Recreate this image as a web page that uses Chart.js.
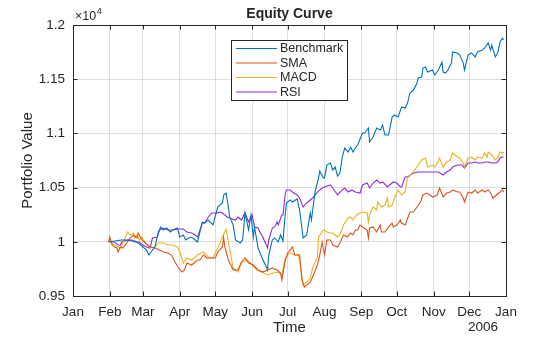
<!DOCTYPE html>
<html>
<head>
<meta charset="utf-8">
<script src="https://cdn.jsdelivr.net/npm/chart.js@4.4.1/dist/chart.umd.min.js"></script>
<style>
  html, body { margin: 0; padding: 0; background: #fff; }
</style>
</head>
<body>
<canvas id="equity-curve" width="560" height="337"></canvas>
<script>
const FONT = '"Liberation Sans", Arial, Helvetica, sans-serif';
const INK = '#262626';
const GRID = 'rgba(38,38,38,0.15)';

// x axis: day of year 2005 (0 = Jan 1)
const monthStarts = [0, 31, 59, 90, 120, 151, 181, 212, 243, 273, 304, 334, 365];
const monthLabels = ['Jan', 'Feb', 'Mar', 'Apr', 'May', 'Jun', 'Jul', 'Aug', 'Sep', 'Oct', 'Nov', 'Dec', 'Jan'];
const yearLabel = '2006';

// portfolio values
const benchDays = [30,35,41,46,50,55,59,62,64,67,69,72,74,76,79,82,84,88,90,93,95,99,101,105,109,111,114,118,122,126,
  127,129,131,132,135,137,141,143,145,148,150,152,153,156,159,163,164,165,168,170,173,175,177,179,180,183,185,189,191,194,
  197,200,201,204,207,208,211,212,214,217,219,221,223,225,227,229,232,234,236,238,240,244,246,249,250,253,256,259,261,263,
  266,269,271,274,277,280,282,284,287,290,291,294,295,297,299,303,305,308,311,312,314,316,319,320,324,326,329,330,333,336,
  339,341,345,347,350,352,353,356,358,360,362,363];
const benchValues = [10000,10007,10017,10017,10007,9989,9952,9924,9878,9924,9952,10090,10137,10109,10127,10090,10109,10127,10044,10063,
  10017,10044,10035,9998,10183,10173,10201,10155,10321,10358,10432,10450,10321,10229,10155,10017,9989,10017,10266,10109,
  10247,10044,10137,9943,9860,9768,9740,9878,10017,10035,9998,10063,10007,10266,10358,10386,10367,10395,10293,10035,
  10063,10266,10201,10459,10589,10653,10589,10589,10708,10727,10662,10690,10607,10635,10782,10865,10828,10875,10828,10865,
  10893,11004,11004,11050,10921,10967,11050,11031,11077,10985,10985,11151,11170,11151,11244,11234,11280,11373,11400,11465,
  11511,11520,11603,11613,11566,11585,11539,11585,11659,11566,11557,11585,11649,11751,11742,11723,11649,11585,11723,11742,
  11705,11751,11769,11788,11834,11769,11815,11705,11742,11843,11880,11862];

const smaDays = [30,31,33,35,37,38,40,42,46,48,51,54,55,58,61,65,69,73,76,80,83,86,89,92,94,96,100,105,107,110,
  113,115,120,122,126,127,128,131,135,139,142,145,148,152,156,160,164,168,172,175,176,179,181,183,185,187,191,193,195,197,
  200,202,206,208,210,212,214,217,219,223,225,228,231,234,236,238,240,242,244,248,249,250,253,256,259,260,263,266,269,270,
  273,276,277,280,284,287,290,293,295,298,301,303,307,309,312,315,318,320,324,326,329,330,333,336,339,341,345,347,350,352,
  354,357,360,362,363];
const smaValues = [10000,10044,9970,9952,9943,9906,9952,9943,9998,10035,10063,10035,10081,10017,9989,9952,9943,9924,9906,9897,
  9878,9814,9758,9721,9740,9804,9786,9832,9832,9878,9851,9851,9851,9906,9952,10035,9952,9832,9740,9740,
  9814,9851,9804,9786,9740,9721,9740,9758,9740,9712,9648,9832,9897,9924,9952,9878,9878,9648,9583,9601,
  9629,9675,9786,9878,9998,9878,10017,10017,9970,9952,9989,10063,10044,10081,10063,10109,10109,10155,10137,10109,
  10035,10127,10137,10090,10155,10090,10090,10137,10173,10137,10155,10201,10173,10155,10275,10275,10321,10367,10432,10450,
  10432,10413,10432,10496,10413,10450,10459,10478,10459,10459,10404,10367,10459,10450,10478,10450,10478,10459,10478,10450,
  10404,10432,10459,10478,10459];

const macdDays = [30,33,35,40,42,46,48,51,52,54,56,58,61,65,69,72,76,80,84,88,90,93,96,100,105,110,114,118,122,126,
  129,131,135,139,142,147,151,155,159,164,169,173,176,179,183,187,190,191,194,197,200,202,206,207,211,214,217,219,223,225,
  228,232,234,236,239,242,244,248,249,250,253,256,257,260,263,265,266,269,271,274,277,280,282,287,291,294,297,299,303,305,
  307,309,312,315,318,320,324,326,329,330,333,336,339,341,345,347,349,350,353,356,358,360,362,363];
const macdValues = [10000,9989,9970,9943,9989,10090,10063,10081,10035,10063,10017,10044,9989,9943,9952,9989,9989,9970,9970,9952,
  9906,9804,9851,9832,9878,9906,9860,9851,9943,10044,10118,9998,9758,9721,9804,9832,9786,9740,9721,9694,
  9712,9721,9694,9851,9897,9878,9878,9832,9601,9629,9666,9758,9860,10044,10109,10090,10081,10081,10044,10063,
  10155,10220,10229,10201,10247,10266,10275,10266,10183,10247,10321,10293,10367,10321,10339,10404,10321,10339,10404,10478,
  10432,10459,10589,10644,10708,10755,10773,10690,10708,10690,10727,10773,10690,10736,10755,10819,10782,10773,10727,10690,
  10773,10782,10755,10782,10773,10819,10782,10828,10801,10755,10773,10828,10819,10828];

const rsiDays = [30,35,38,40,41,46,50,54,56,59,62,65,67,71,73,76,80,84,89,93,96,100,103,105,109,111,114,117,121,124,
  126,130,132,137,139,142,145,148,151,153,156,158,160,164,165,168,170,172,173,176,177,179,180,183,185,189,191,194,197,200,
  202,206,210,212,217,219,223,227,229,232,235,238,242,244,248,250,253,256,259,261,265,267,270,273,276,277,280,282,287,291,
  297,303,308,312,315,318,320,324,328,330,333,336,339,341,345,347,350,353,356,358,360,362,363];
const rsiValues = [10000,9998,9970,9970,9998,10017,10017,9998,9998,9970,9952,9943,10035,10044,10109,10127,10109,10109,10118,10118,
  10090,10081,10063,10044,10173,10173,10229,10266,10266,10275,10266,10229,10220,10201,10229,10201,10266,10183,10247,10137,
  10127,10081,10044,9943,10017,10127,10137,10183,10155,10247,10247,10450,10478,10478,10459,10432,10404,10321,10358,10386,
  10404,10459,10496,10506,10524,10496,10432,10478,10496,10459,10478,10459,10450,10524,10542,10496,10542,10570,10542,10552,
  10506,10524,10552,10542,10506,10506,10598,10598,10635,10644,10644,10644,10644,10616,10644,10662,10690,10708,10708,10681,
  10727,10727,10736,10727,10727,10736,10736,10727,10727,10736,10773,10782,10782];

let pairs = (days, values) => days.map((d, i) => ({ x: d, y: values[i] }));

// MATLAB-like box with inward ticks
const axesBox = {
  id: 'axesBox',
  afterDatasetsDraw(chart) {
    const { ctx, chartArea: a, scales } = chart;
    const len = 4.5;
    ctx.save();
    ctx.strokeStyle = INK;
    ctx.lineWidth = 1;
    ctx.beginPath();
    scales.x.ticks.forEach(t => {
      const px = Math.round(scales.x.getPixelForValue(t.value)) + 0.5;
      ctx.moveTo(px, a.bottom); ctx.lineTo(px, a.bottom - len);
      ctx.moveTo(px, a.top); ctx.lineTo(px, a.top + len);
    });
    scales.y.ticks.forEach(t => {
      const py = Math.round(scales.y.getPixelForValue(t.value)) + 0.5;
      ctx.moveTo(a.left, py); ctx.lineTo(a.left + len, py);
      ctx.moveTo(a.right, py); ctx.lineTo(a.right - len, py);
    });
    ctx.stroke();
    ctx.strokeRect(Math.round(a.left) + 0.5, Math.round(a.top) + 0.5, Math.round(a.right - a.left), Math.round(a.bottom - a.top));
    ctx.restore();
  }
};

// legend box, exponent label and year label
const extras = {
  id: 'extras',
  afterDraw(chart) {
    const { ctx, chartArea: a } = chart;
    ctx.save();
    // legend
    const lx = 231.5, ly = 40.5, lw = 116, lh = 60;
    ctx.fillStyle = '#fff';
    ctx.fillRect(lx, ly, lw, lh);
    ctx.strokeStyle = INK;
    ctx.lineWidth = 1;
    ctx.strokeRect(lx, ly, lw, lh);
    ctx.font = '12.5px ' + FONT;
    ctx.textBaseline = 'middle';
    ctx.textAlign = 'left';
    chart.data.datasets.forEach((ds, i) => {
      const y = 48.5 + i * 14.5;
      ctx.strokeStyle = ds.borderColor;
      ctx.beginPath();
      ctx.moveTo(236, y); ctx.lineTo(277, y);
      ctx.stroke();
      ctx.fillStyle = INK;
      ctx.fillText(ds.label, 280, y + 0.5);
    });
    // x10^4
    ctx.fillStyle = INK;
    ctx.textBaseline = 'alphabetic';
    ctx.font = '12.5px ' + FONT;
    ctx.fillText('\u00d710', 75, 20);
    const w = ctx.measureText('\u00d710').width;
    ctx.font = '9px ' + FONT;
    ctx.fillText('4', 75 + w + 0.5, 14);
    // year under last month tick
    ctx.font = '13.5px ' + FONT;
    ctx.textAlign = 'right';
    ctx.textBaseline = 'middle';
    ctx.fillText(yearLabel, a.right - 8, 327);
    ctx.restore();
  }
};

const data = {
  datasets: [
    { label: 'Benchmark', data: pairs(benchDays, benchValues), borderColor: '#0072BD' },
    { label: 'SMA', data: pairs(smaDays, smaValues), borderColor: '#D95319' },
    { label: 'MACD', data: pairs(macdDays, macdValues), borderColor: '#EDB120' },
    { label: 'RSI', data: pairs(rsiDays, rsiValues), borderColor: '#8A2BE2' },
  ].map(ds => Object.assign(ds, { borderWidth: 1.1, pointRadius: 0, tension: 0, fill: false })),
};

const config = {
  type: 'line',
  data,
  plugins: [axesBox, extras],
  options: {
    responsive: false,
    animation: false,
    layout: { padding: { left: 0, right: 54, top: 0, bottom: 0 } },
    plugins: {
      legend: { display: false },
      tooltip: { enabled: false },
      title: {
        display: true,
        text: 'Equity Curve',
        fullSize: false,
        color: INK,
        font: { family: FONT, size: 14, weight: 'bold' },
        padding: { top: 5.5, bottom: 2.7 },
      },
    },
    scales: {
      x: {
        type: 'linear',
        min: 0,
        max: 365,
        afterBuildTicks: s => { s.ticks = monthStarts.map(v => ({ value: v })); },
        afterFit: s => { s.height = 41; },
        grid: { color: GRID, drawTicks: false },
        border: { display: false },
        ticks: {
          autoSkip: false,
          maxRotation: 0,
          padding: 8,
          color: INK,
          font: { family: FONT, size: 13.5 },
          callback: (v) => monthLabels[monthStarts.indexOf(v)],
        },
        title: { display: true, text: 'Time', color: INK, font: { family: FONT, size: 15 }, padding: { top: 0, bottom: 0 } },
      },
      y: {
        min: 9500,
        max: 12000,
        afterFit: s => { s.width = 73; },
        grid: { color: GRID, drawTicks: false },
        border: { display: false },
        ticks: {
          stepSize: 500,
          padding: 8,
          color: INK,
          font: { family: FONT, size: 13.5 },
          callback: v => String(+(v / 1e4).toFixed(2)),
        },
        title: { display: true, text: 'Portfolio Value', color: INK, font: { family: FONT, size: 15 }, padding: { top: 19, bottom: 0 } },
      },
    },
  },
};

const equityChart = new Chart(document.getElementById('equity-curve'), config);
</script>
</body>
</html>
